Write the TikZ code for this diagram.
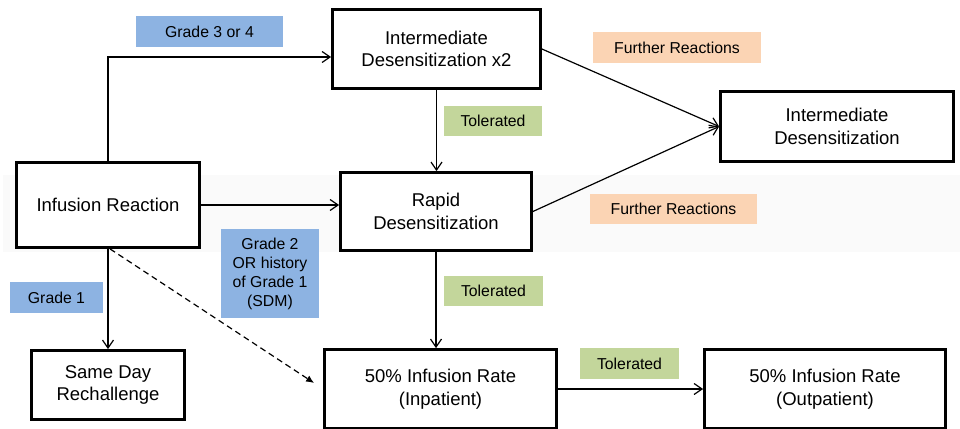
\documentclass[tikz,border=0pt]{standalone}
\usepackage{fontspec}
\setmainfont{Liberation Sans}
\usetikzlibrary{arrows.meta,calc}
\definecolor{gblue}{HTML}{8DB3E2}
\definecolor{ggreen}{HTML}{C3D69B}
\definecolor{gpeach}{HTML}{FBD4B4}
\definecolor{band}{HTML}{FAFAFA}
\begin{document}
\begin{tikzpicture}[x=1pt,y=-1pt,
  box/.style={draw, line width=2.8pt, inner sep=0pt, align=center, fill=white,
    font=\fontsize{18.5}{22.5}\selectfont},
  lab/.style={inner sep=0pt, align=center, font=\fontsize{15.8}{19}\selectfont},
  conn/.style={line width=1.2pt, -{Straight Barb[length=8pt,width=11pt,line width=1.2pt]}},
  dconn/.style={line width=1.2pt, dash pattern=on 6pt off 4pt, -{Latex[length=8pt,width=7pt]}}]
\clip (0,0) rectangle (960,428);
\fill[white] (0,0) rectangle (960,428);
\fill[band] (3,175) rectangle (960,252);
% boxes
\node[box, minimum width=183pt, minimum height=85pt] (IR) at (108,205) {Infusion Reaction};
\node[box, minimum width=208pt, minimum height=79pt] (IDx) at (436.5,49) {Intermediate\\Desensitization x2};
\node[box, minimum width=191pt, minimum height=78pt] (RD) at (436,211.5) {Rapid\\Desensitization};
\node[box, minimum width=233pt, minimum height=70pt] (ID) at (837,126.5) {Intermediate\\Desensitization};
\node[box, minimum width=153pt, minimum height=69pt] (SDR) at (108,385) {Same Day\\Rechallenge};
\node[box, minimum width=232pt, minimum height=79pt] (INP) at (440.5,389) {50\% Infusion Rate\\(Inpatient)};
\node[box, minimum width=241pt, minimum height=79pt] (OUT) at (825,389) {50\% Infusion Rate\\(Outpatient)};
% labels
\node[lab, fill=gblue, minimum width=147pt, minimum height=31pt] (g34) at (209.5,31.5) {Grade 3 or 4};
\node[lab, fill=ggreen, minimum width=98pt, minimum height=30pt] (t1) at (493,121) {Tolerated};
\node[lab, fill=gpeach, minimum width=168pt, minimum height=31pt] (fr1) at (677,47.5) {Further Reactions};
\node[lab, fill=gpeach, minimum width=167pt, minimum height=30pt] (fr2) at (673.5,209) {Further Reactions};
\node[lab, fill=gblue, minimum width=98pt, minimum height=89pt] (g2) at (270,273.5) {Grade 2\\OR history\\of Grade 1\\(SDM)};
\node[lab, fill=gblue, minimum width=93pt, minimum height=31pt] (g1) at (56.5,297.5) {Grade 1};
\node[lab, fill=ggreen, minimum width=99pt, minimum height=30pt] (t2) at (493.5,291) {Tolerated};
\node[lab, fill=ggreen, minimum width=99pt, minimum height=31pt] (t3) at (629.5,363.5) {Tolerated};
% connectors
\coordinate (c1) at ($(IDx.west)+(0,8)$);
\draw[conn] (IR.north) |- (c1);
\draw[conn] (IR.east) -- (IR.east -| RD.west);
\draw[conn] (IDx.south) -- (IDx.south |- RD.north);
\draw[conn] (IDx.east) -- (ID.west);
\draw[conn] (RD.east) -- (ID.west);
\draw[conn] (IR.south) -- (SDR.north);
\coordinate (dt) at ($(INP.west)+(-9,-6)$);
\draw[dconn] ($(IR.south)+(2,0)$) -- (dt);
\draw[conn] (RD.south) -- (RD.south |- INP.north);
\draw[conn] (INP.east) -- (OUT.west);
\end{tikzpicture}
\end{document}
